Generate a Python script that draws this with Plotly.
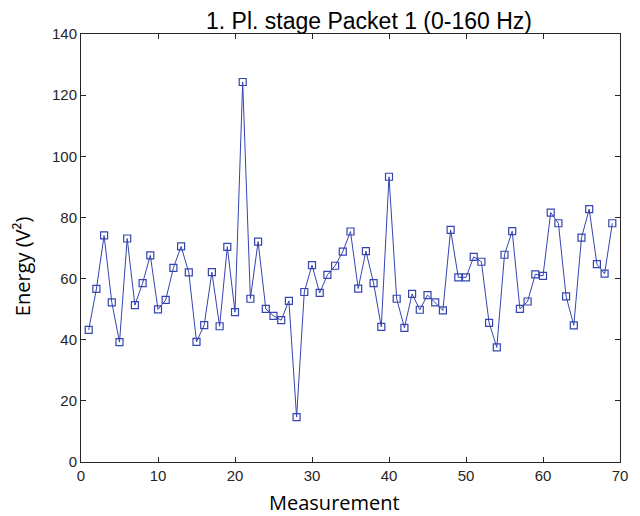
import plotly.graph_objects as go

measurement = list(range(1, 70))
energy = [
    43.2, 56.6, 74.1, 52.2, 39.2, 73.1, 51.3, 58.5, 67.6, 49.9,
    53.0, 63.5, 70.5, 62.0, 39.3, 44.8, 62.1, 44.4, 70.4, 49.0,
    124.3, 53.4, 72.1, 50.1, 47.8, 46.4, 52.7, 14.7, 55.6, 64.4,
    55.3, 61.2, 64.2, 68.8, 75.4, 56.7, 69.0, 58.5, 44.2, 93.3,
    53.4, 43.9, 55.0, 49.8, 54.6, 52.2, 49.6, 75.9, 60.4, 60.4,
    67.1, 65.5, 45.5, 37.5, 67.8, 75.5, 50.1, 52.5, 61.4, 60.9,
    81.6, 78.1, 54.2, 44.7, 73.4, 82.7, 64.7, 61.6, 78.1,
]
title_text = "1. Pl. stage Packet 1 (0-160 Hz)"
x_label = "Measurement"
y_label = "Energy (V²)"

W, H = 640, 516
L, R, T, B = 81, 18, 34, 54
pw, ph = W - L - R, H - T - B

def px_x(px):
    return (px - L) / pw

def px_y(py):
    return (H - B - py) / ph

axis_col = "#262626"
line_col = "#3444B0"

fig = go.Figure()
fig.add_trace(go.Scatter(
    x=measurement, y=energy, mode="lines+markers",
    line=dict(color=line_col, width=1),
    marker=dict(symbol="square-open", size=7, color=line_col, line=dict(width=1.2, color=line_col)),
    showlegend=False,
))

axis_common = dict(
    showline=True, linecolor=axis_col, linewidth=1, mirror="ticks",
    ticks="inside", ticklen=5, tickwidth=1, tickcolor=axis_col,
    showgrid=False, zeroline=False,
    tickfont=dict(family="Liberation Sans, Arial, sans-serif", size=15, color=axis_col),
)

fig.update_layout(
    width=W, height=H,
    margin=dict(l=L, r=R, t=T, b=B, pad=0),
    paper_bgcolor="white", plot_bgcolor="white",
    title=dict(text=title_text, x=369 / W, xanchor="center", y=1 - 21 / H, yanchor="middle",
               font=dict(family="Liberation Sans, Arial, sans-serif", size=23, color="black")),
    xaxis=dict(range=[0, 70], dtick=10, tick0=0, **axis_common),
    yaxis=dict(range=[0, 140], dtick=20, tick0=0, **axis_common),
    annotations=[
        dict(text=x_label, xref="paper", yref="paper", x=px_x(335), y=px_y(502),
             xanchor="center", yanchor="middle", showarrow=False,
             font=dict(family="Open Sans, sans-serif", size=20, color="black")),
        dict(text=y_label, xref="paper", yref="paper", x=px_x(22), y=px_y(266),
             xanchor="center", yanchor="middle", showarrow=False, textangle=-90,
             font=dict(family="Open Sans, sans-serif", size=20, color="black")),
    ],
)

fig.write_html("out.html", config={"displayModeBar": False},
               post_script="document.body.style.margin='0';document.body.style.padding='0';")
